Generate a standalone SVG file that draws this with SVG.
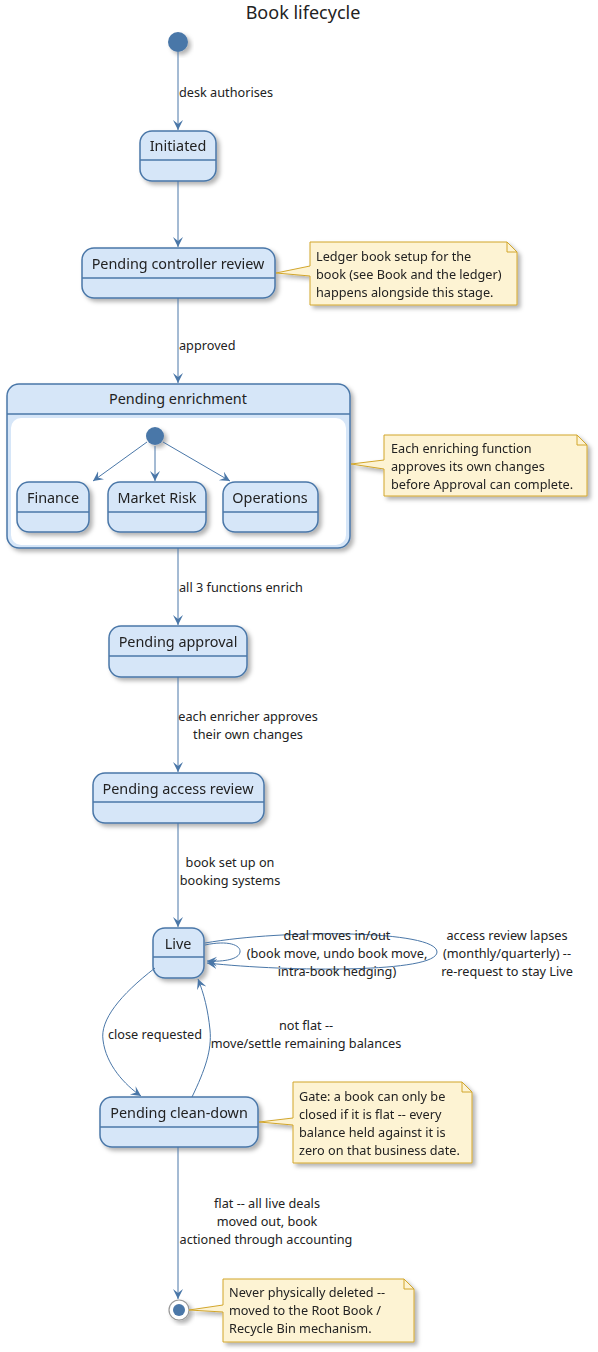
<svg xmlns="http://www.w3.org/2000/svg" width="598" height="1352" viewBox="0 0 598 1352">
<style>
text{font-family:"Noto Sans","DejaVu Sans",sans-serif;fill:#222}
.title{font-size:18px}
.sn{font-size:14.4px;text-anchor:middle}
.lb{font-size:12.7px}
.lc{font-size:12.7px;text-anchor:middle}
.st{fill:#D6E6F8;stroke:#4A77A8;stroke-width:1.5}
.dv{stroke:#4A77A8;stroke-width:1.5}
.ed{fill:none;stroke:#4A77A8;stroke-width:1}
.nt{fill:#FDF3D3;stroke:#D2A62C;stroke-width:1}
.nf{fill:none;stroke:#D2A62C;stroke-width:1}
.dot{fill:#4A77A8}
</style>
<defs>
<filter id="sh" x="-20%" y="-20%" width="150%" height="150%">
<feDropShadow dx="3" dy="3" stdDeviation="2" flood-color="#000" flood-opacity="0.3"/>
</filter>
<marker id="ah" markerUnits="userSpaceOnUse" markerWidth="12" markerHeight="12" refX="10" refY="5" orient="auto">
<path d="M0,0 L10,5 L0,10 L4,5 Z" fill="#4A77A8"/>
</marker>
</defs>
<rect width="598" height="1352" fill="#fff"/>
<text class="title" x="303" y="19" text-anchor="middle">Book lifecycle</text>

<g id="start">
<circle class="dot" cx="178" cy="42" r="10" filter="url(#sh)"/>
</g>

<g id="initiated" filter="url(#sh)">
<rect class="st" x="140" y="131" width="76" height="50" rx="12"/>
<line class="dv" x1="140" y1="160" x2="216" y2="160"/>
<text class="sn" x="178" y="151">Initiated</text>
</g>

<g id="controller" filter="url(#sh)">
<rect class="st" x="82" y="248" width="193" height="50" rx="12"/>
<line class="dv" x1="82" y1="278" x2="275" y2="278"/>
<text class="sn" x="178" y="269">Pending controller review</text>
</g>

<g id="note1" filter="url(#sh)">
<path class="nt" d="M310,242 H507 L517,252 V305 H310 V276 L276,273 L310,266 Z"/>
<path class="nf" d="M507,242 V252 H517"/>
<text class="lb" x="316" y="261">Ledger book setup for the</text>
<text class="lb" x="316" y="279">book (see Book and the ledger)</text>
<text class="lb" x="316" y="297">happens alongside this stage.</text>
</g>

<g id="enrichment">
<rect class="st" x="7" y="384" width="343" height="164" rx="12" filter="url(#sh)"/>
<line class="dv" x1="7" y1="414" x2="350" y2="414"/>
<rect x="11" y="418" width="335" height="127" rx="10" fill="#fff"/>
<text class="sn" x="178" y="404">Pending enrichment</text>
<circle class="dot" cx="155" cy="436" r="9" filter="url(#sh)"/>
</g>

<g id="finance" filter="url(#sh)">
<rect class="st" x="17" y="482" width="72" height="50" rx="12"/>
<line class="dv" x1="17" y1="512" x2="89" y2="512"/>
<text class="sn" x="53" y="503">Finance</text>
</g>

<g id="marketrisk" filter="url(#sh)">
<rect class="st" x="108" y="482" width="98" height="50" rx="12"/>
<line class="dv" x1="108" y1="512" x2="206" y2="512"/>
<text class="sn" x="157" y="503">Market Risk</text>
</g>

<g id="operations" filter="url(#sh)">
<rect class="st" x="223" y="482" width="95" height="50" rx="12"/>
<line class="dv" x1="223" y1="512" x2="318" y2="512"/>
<text class="sn" x="270" y="503">Operations</text>
</g>

<g id="note2" filter="url(#sh)">
<path class="nt" d="M384,435 H577 L587,445 V496 H384 V469 L351,464 L384,460 Z"/>
<path class="nf" d="M577,435 V445 H587"/>
<text class="lb" x="391" y="453">Each enriching function</text>
<text class="lb" x="391" y="471">approves its own changes</text>
<text class="lb" x="391" y="489">before Approval can complete.</text>
</g>

<g id="approval" filter="url(#sh)">
<rect class="st" x="109" y="626" width="138" height="51" rx="12"/>
<line class="dv" x1="109" y1="656" x2="247" y2="656"/>
<text class="sn" x="178" y="647">Pending approval</text>
</g>

<g id="access" filter="url(#sh)">
<rect class="st" x="93" y="773" width="171" height="50" rx="12"/>
<line class="dv" x1="93" y1="802" x2="264" y2="802"/>
<text class="sn" x="178" y="794">Pending access review</text>
</g>

<g id="live" filter="url(#sh)">
<rect class="st" x="153" y="928" width="51" height="50" rx="12"/>
<line class="dv" x1="153" y1="957" x2="204" y2="957"/>
<text class="sn" x="178" y="949">Live</text>
</g>

<g id="cleandown" filter="url(#sh)">
<rect class="st" x="100" y="1097" width="158" height="50" rx="12"/>
<line class="dv" x1="100" y1="1127" x2="258" y2="1127"/>
<text class="sn" x="179" y="1118">Pending clean-down</text>
</g>

<g id="note3" filter="url(#sh)">
<path class="nt" d="M293,1082 H462 L472,1092 V1163 H293 V1125 L259,1122 L293,1118 Z"/>
<path class="nf" d="M462,1082 V1092 H472"/>
<text class="lb" x="299" y="1101">Gate: a book can only be</text>
<text class="lb" x="299" y="1119">closed if it is flat -- every</text>
<text class="lb" x="299" y="1137">balance held against it is</text>
<text class="lb" x="299" y="1155">zero on that business date.</text>
</g>

<g id="end">
<circle cx="179" cy="1310" r="10" fill="#fff" stroke="#999" stroke-width="1.2" filter="url(#sh)"/>
<circle class="dot" cx="179" cy="1310" r="6"/>
</g>

<g id="note4" filter="url(#sh)">
<path class="nt" d="M223,1279 H404 L414,1289 V1342 H223 V1312 L189,1310 L223,1305 Z"/>
<path class="nf" d="M404,1279 V1289 H414"/>
<text class="lb" x="229" y="1297">Never physically deleted --</text>
<text class="lb" x="229" y="1315">moved to the Root Book /</text>
<text class="lb" x="229" y="1333">Recycle Bin mechanism.</text>
</g>

<g id="connectors">
<path class="ed" d="M178,52 V130" marker-end="url(#ah)"/>
<text class="lb" x="179" y="97">desk authorises</text>
<path class="ed" d="M178,181 V247" marker-end="url(#ah)"/>
<path class="ed" d="M178,298 V383" marker-end="url(#ah)"/>
<text class="lb" x="179" y="350">approved</text>
<path class="ed" d="M147,442 L93,481" marker-end="url(#ah)"/>
<path class="ed" d="M155,446 V481" marker-end="url(#ah)"/>
<path class="ed" d="M163,442 L230,481" marker-end="url(#ah)"/>
<path class="ed" d="M178,548 V625" marker-end="url(#ah)"/>
<text class="lb" x="179" y="592">all 3 functions enrich</text>
<path class="ed" d="M178,677 V772" marker-end="url(#ah)"/>
<text class="lc" x="248" y="721">each enricher approves</text>
<text class="lc" x="248" y="739">their own changes</text>
<path class="ed" d="M178,823 V927" marker-end="url(#ah)"/>
<text class="lc" x="230" y="867">book set up on</text>
<text class="lc" x="230" y="885">booking systems</text>
<path class="ed" d="M205,945 C228,940 241,945 240,952 C239,959 225,962 207,961" marker-end="url(#ah)"/>
<path class="ed" d="M205,943 C285,929 437,930 437,952 C437,973 290,972 207,963" marker-end="url(#ah)"/>
<text class="lc" x="337" y="940">deal moves in/out</text>
<text class="lc" x="337" y="958">(book move, undo book move,</text>
<text class="lc" x="337" y="976">intra-book hedging)</text>
<text class="lc" x="507" y="940">access review lapses</text>
<text class="lc" x="507" y="958">(monthly/quarterly) --</text>
<text class="lc" x="507" y="976">re-request to stay Live</text>
<path class="ed" d="M155,968 C120,995 100,1020 103,1040 C106,1065 125,1085 141,1096" marker-end="url(#ah)"/>
<text class="lc" x="155" y="1039">close requested</text>
<path class="ed" d="M192,1097 C205,1070 212,1050 210,1030 C208,1010 204,994 198,979" marker-end="url(#ah)"/>
<text class="lc" x="306" y="1030">not flat --</text>
<text class="lc" x="306" y="1048">move/settle remaining balances</text>
<path class="ed" d="M178,1147 V1299" marker-end="url(#ah)"/>
<text class="lc" x="267" y="1208">flat -- all live deals</text>
<text class="lc" x="267" y="1226">moved out, book</text>
<text class="lc" x="266" y="1244">actioned through accounting</text>
</g>
</svg>
